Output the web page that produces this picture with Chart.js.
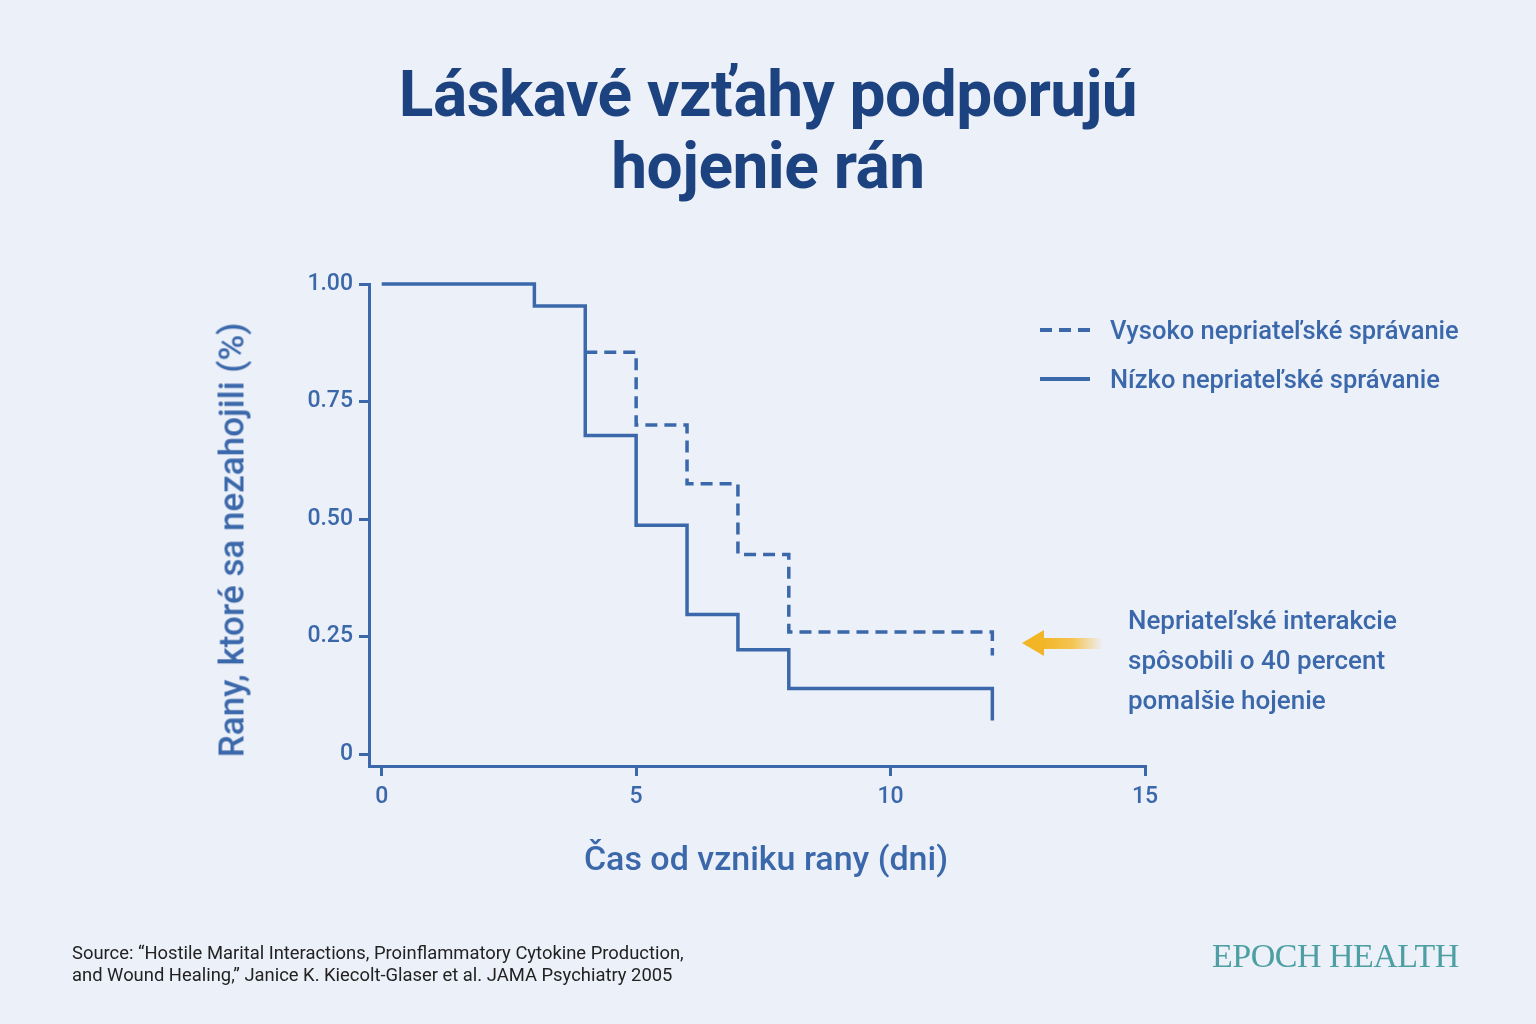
<!DOCTYPE html>
<html>
<head>
<meta charset="utf-8">
<script src="https://cdn.jsdelivr.net/npm/chart.js@4"></script>
<style>
  html, body { margin: 0; padding: 0; }
  body { width: 1536px; height: 1024px; background: #ecf0f8; position: relative; overflow: hidden; font-family: Roboto, "Noto Sans", sans-serif; }
  #wrap { position: absolute; left: 0; top: 0; width: 1536px; height: 1024px; }
  h1 { position: absolute; left: 0; width: 1536px; top: 59px; margin: 0; text-align: center; color: #1c4280; font-size: 64px; font-weight: 700; line-height: 72px; letter-spacing: -0.5px; }
  .axisTitle { position: absolute; color: #3b68aa; font-weight: 500; white-space: nowrap; }
  #xTitle { left: 766px; top: 858px; font-size: 34px; transform: translate(-50%, -50%); }
  #yTitle { left: 232px; top: 540px; font-size: 35px; transform: translate(-50%, -50%) rotate(-90deg); }
  .legend { position: absolute; left: 1040px; color: #3b68aa; font-size: 25.5px; font-weight: 500; }
  .legend span.sw { position: absolute; left: 0; width: 50px; top: 50%; }
  .legend span.tx { position: absolute; left: 70px; white-space: nowrap; transform: translateY(-50%); }
  #note { position: absolute; left: 1128px; top: 600px; color: #3b68aa; font-size: 26px; font-weight: 500; line-height: 40px; }
  #arrow { position: absolute; left: 1022px; top: 630px; width: 80px; height: 26px; }
  #arrow .head { position: absolute; left: 0; top: 0; width: 0; height: 0; border-top: 13px solid transparent; border-bottom: 13px solid transparent; border-right: 22px solid #f2b526; }
  #arrow .shaft { position: absolute; left: 21px; top: 8px; width: 60px; height: 11px; background: linear-gradient(to right, #f2b526 0%, #f5c553 50%, rgba(245,200,90,0) 100%); }
  #source { position: absolute; left: 72px; top: 942px; color: #222; font-size: 18.4px; line-height: 22px; }
  #brand { position: absolute; left: 1212px; top: 937px; color: #4d9fa3; font-family: "Liberation Serif", "DejaVu Serif", serif; font-size: 34px; letter-spacing: -0.5px; }
</style>
</head>
<body>
<h1>Láskavé vzťahy podporujú<br>hojenie rán</h1>
<div id="wrap"><canvas id="km" width="1536" height="1024"></canvas></div>
<div id="xTitle" class="axisTitle"></div>
<div id="yTitle" class="axisTitle"></div>
<div id="legendBox"></div>
<div id="arrow"><div class="shaft"></div><div class="head"></div></div>
<div id="note">Nepriateľské interakcie<br>spôsobili o 40 percent<br>pomalšie hojenie</div>
<div id="source">Source: “Hostile Marital Interactions, Proinflammatory Cytokine Production,<br>and Wound Healing,” Janice K. Kiecolt-Glaser et al. JAMA Psychiatry 2005</div>
<div id="brand">EPOCH HEALTH</div>
<script>
// Kaplan-Meier style step data
const seriesNames = ["Vysoko nepriateľské správanie", "Nízko nepriateľské správanie"];
const highDays = [4, 5, 6, 7, 8, 12];
const highVals = [0.855, 0.70, 0.575, 0.425, 0.26, 0.21];
const lowDays = [0, 3, 4, 5, 6, 7, 8, 12];
const lowVals = [1.0, 0.953, 0.678, 0.487, 0.297, 0.222, 0.14, 0.072];
const xTicks = [0, 5, 10, 15];
const yTicks = [0, 0.25, 0.5, 0.75, 1.0];
const yTickLabels = ["0", "0.25", "0.50", "0.75", "1.00"];
const xTitle = "Čas od vzniku rany (dni)";
const yTitle = "Rany, ktoré sa nezahojili (%)";

const blue = "#3b68aa";

document.getElementById("xTitle").textContent = xTitle;
document.getElementById("yTitle").textContent = yTitle;

const highData = highDays.map((d, i) => ({ x: d, y: highVals[i] }));
const lowData = lowDays.map((d, i) => ({ x: d, y: lowVals[i] }));

const ctx = document.getElementById("km").getContext("2d");
const chart = new Chart(ctx, {
  type: 'line',
  data: {
    datasets: [
      {
        label: seriesNames[0],
        data: highData,
        stepped: 'before',
        borderColor: blue,
        borderWidth: 3.5,
        borderDash: [12, 7],
        pointRadius: 0,
        fill: false,
        clip: false
      },
      {
        label: seriesNames[1],
        data: lowData,
        stepped: 'before',
        borderColor: blue,
        borderWidth: 3.5,
        pointRadius: 0,
        fill: false,
        clip: false
      }
    ]
  },
  options: {
    responsive: false,
    animation: false,
    layout: { padding: { left: 213, top: 284, right: 391, bottom: 146 } },
    plugins: { legend: { display: false }, tooltip: { enabled: false } },
    scales: {
      x: {
        type: 'linear',
        min: -0.25,
        max: 15,
        afterBuildTicks: (s) => { s.ticks = xTicks.map(v => ({ value: v })); },
        afterFit: (s) => { s.height = 112; },
        border: { display: true, color: blue, width: 3 },
        grid: { display: true, drawOnChartArea: false, drawTicks: true, tickLength: 10, color: blue, lineWidth: 3 },
        ticks: { color: blue, font: { family: 'Roboto', size: 23, weight: '500' }, padding: 7, maxRotation: 0 }
      },
      y: {
        min: -0.025,
        max: 1.0,
        afterBuildTicks: (s) => { s.ticks = yTicks.map(v => ({ value: v })); },
        afterFit: (s) => { s.width = 156; },
        border: { display: true, color: blue, width: 3 },
        grid: { display: true, drawOnChartArea: false, drawTicks: true, tickLength: 10, color: blue, lineWidth: 3 },
        ticks: {
          color: blue, font: { family: 'Roboto', size: 23, weight: '500' }, padding: 6,
          callback: (v) => { const i = yTicks.indexOf(v); return i >= 0 ? yTickLabels[i] : ''; }
        }
      }
    }
  }
});

// legend built from the datasets
const legendBox = document.getElementById("legendBox");
const legendTops = [330, 379];
chart.data.datasets.forEach((ds, i) => {
  const row = document.createElement("div");
  row.className = "legend";
  row.style.top = legendTops[i] + "px";
  const sw = document.createElement("span");
  sw.className = "sw";
  sw.style.height = "4px";
  sw.style.marginTop = "-2px";
  sw.style.background = ds.borderDash
    ? "repeating-linear-gradient(to right, " + ds.borderColor + " 0 12px, transparent 12px 19px)"
    : ds.borderColor;
  const tx = document.createElement("span");
  tx.className = "tx";
  tx.textContent = ds.label;
  row.appendChild(sw);
  row.appendChild(tx);
  legendBox.appendChild(row);
});
</script>
</body>
</html>
